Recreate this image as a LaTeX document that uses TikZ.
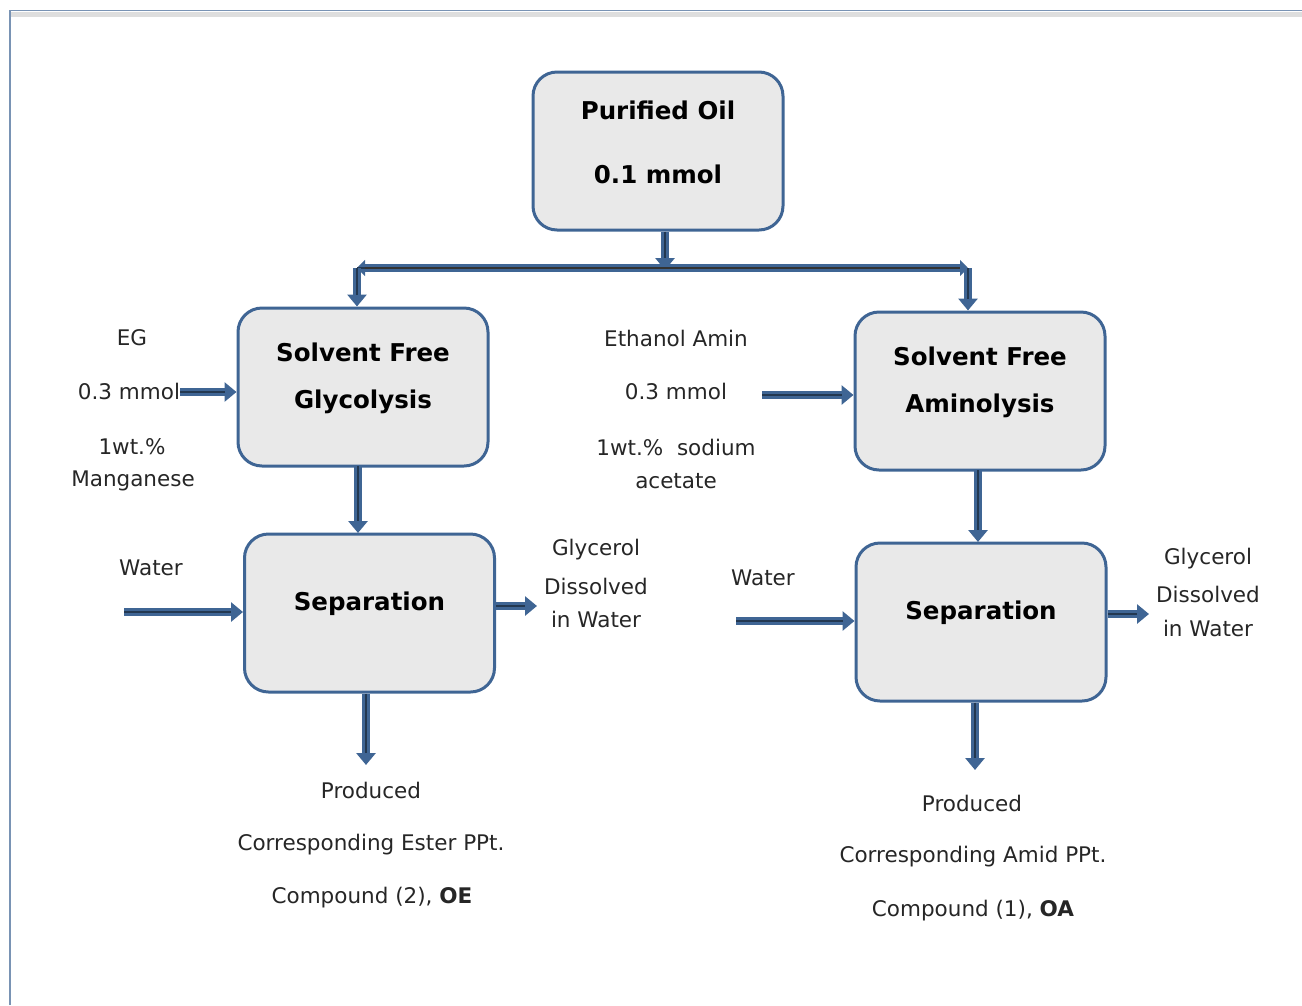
\documentclass[tikz,border=0pt]{standalone}
\usepackage{fontspec}
\setmainfont{DejaVu Sans}
\usetikzlibrary{arrows.meta}
\definecolor{boxblue}{HTML}{3F6594}
\definecolor{boxfill}{HTML}{E9E9E9}
\definecolor{framegray}{HTML}{C8C8C8}
\begin{document}
\begin{tikzpicture}[x=1pt,y=-1pt,
  box/.style={draw=boxblue, line width=3pt, fill=boxfill, rounded corners=24pt,
    minimum width=250pt, minimum height=158pt, inner sep=0pt},
  btext/.style={align=center, inner sep=0pt, font=\fontsize{24.5}{47}\selectfont\bfseries},
  flow/.style={draw=boxblue, line width=7.5pt, -{Triangle[length=12pt,width=19pt]},
    postaction={draw=boxblue!55!black, line width=1.6pt, -, shorten >=12pt}},
  lbl/.style={font=\fontsize{21.5}{25}\selectfont, inner sep=0pt, text=black!85},
  ]
\useasboundingbox (0,0) rectangle (1302,1005);
% frame
\fill[framegray!60] (11,12) rectangle (1302,17);
\draw[boxblue!70, line width=1.6pt] (10,1005) -- (10,10.5) -- (1302,10.5);

% boxes
\node[box] (oil) at (658,151) {};
\node[box] (gly) at (363,387) {};
\node[box] (sepL) at (369.5,613) {};
\node[box] (ami) at (980,391) {};
\node[box] (sepR) at (981,622) {};
\node[btext, font=\fontsize{24.5}{64}\selectfont\bfseries] (oilT) at ([yshift=9pt]oil.center) {Purified Oil\\0.1 mmol};
\node[btext] (glyT) at ([yshift=9pt]gly.center) {Solvent Free\\Glycolysis};
\node[btext] (sepLT) at ([yshift=9pt]sepL.center) {Separation};
\node[btext] (amiT) at ([yshift=9pt]ami.center) {Solvent Free\\Aminolysis};
\node[btext] (sepRT) at ([yshift=9pt]sepR.center) {Separation};

% labels
\node[lbl] (eg) at (132,338) {EG};
\node[lbl] (egmm) at (129,391) {0.3 mmol};
\node[lbl] (egwt) at (132,447) {1wt.\%};
\node[lbl] (mn) at (133,481) {Manganese};
\node[lbl] (ea) at (676,338) {Ethanol Amin};
\node[lbl] (eamm) at (676,391) {0.3 mmol};
\node[lbl] (eawt) at (676,447) {1wt.\%\ \ sodium};
\node[lbl] (ac) at (676,481) {acetate};
\node[lbl] (wL) at (151,568) {Water};
\node[lbl] (g1) at (596,550) {Glycerol};
\node[lbl] (d1) at (596,586) {Dissolved};
\node[lbl] (i1) at (596,619) {in Water};
\node[lbl] (wR) at (763,578) {Water};
\node[lbl] (g2) at (1208,559) {Glycerol};
\node[lbl] (d2) at (1208,594) {Dissolved};
\node[lbl] (i2) at (1208,628) {in Water};
\node[lbl] (p1) at (371,790) {Produced};
\node[lbl] (c1) at (371,845) {Corresponding Ester PPt.};
\node[lbl] (k1) at (372,898) {Compound (2), \textbf{OE}};
\node[lbl] (p2) at (972,803) {Produced};
\node[lbl] (c2) at (973,857) {Corresponding Amid PPt.};
\node[lbl] (k2) at (973,911) {Compound (1), \textbf{OA}};

% coordinates
\coordinate (jn) at (665,270);
\coordinate (bl) at (357,268);
\coordinate (br) at (968,268);
\coordinate (egs) at (180,392);
\coordinate (eas) at (762,395);
\coordinate (wLs) at (124,612);
\coordinate (wRs) at (736,621);
\coordinate (oL) at (537,606);
\coordinate (oR) at (1149,614);
\coordinate (dL) at (366,765);
\coordinate (dR) at (975,770);

% connectors
\draw[flow] (oil.south -| jn) -- (jn);
\draw[flow, {Triangle[length=8pt,width=16pt]}-{Triangle[length=8pt,width=16pt]},
  postaction={draw=black!80, line width=2pt, -, shorten >=8pt, shorten <=8pt}] (bl) -- (br);
\draw[flow] (bl) -- (bl |- gly.north);
\draw[flow] (br) -- (br |- ami.north);
\draw[flow] (egs) -- (egs -| gly.west);
\draw[flow] (eas) -- (eas -| ami.west);
\draw[flow] (358,466) -- (358,533);
\draw[flow] (978,470) -- (978,542);
\draw[flow] (wLs) -- (wLs -| sepL.west);
\draw[flow] (wRs) -- (wRs -| sepR.west);
\draw[flow] (oL -| sepL.east) -- (oL);
\draw[flow] (oR -| sepR.east) -- (oR);
\draw[flow] (sepL.south -| dL) -- (dL);
\draw[flow] (sepR.south -| dR) -- (dR);
\end{tikzpicture}
\end{document}
